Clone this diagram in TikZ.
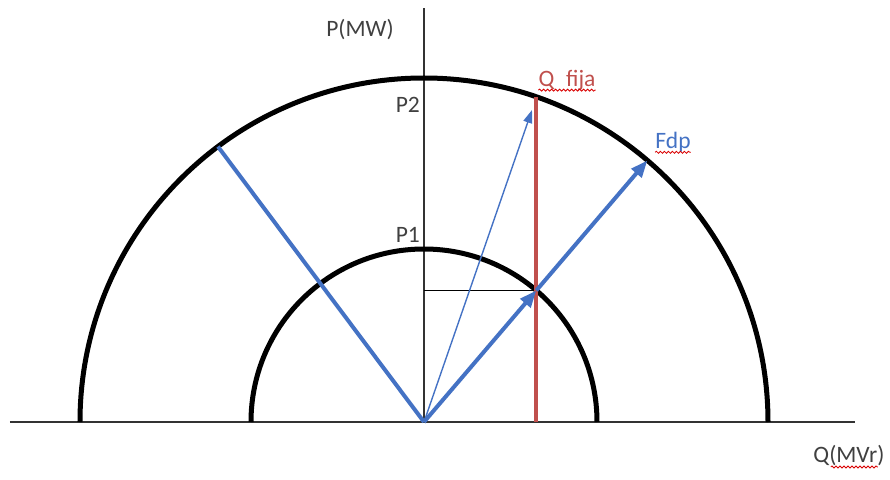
\documentclass[tikz,border=0pt]{standalone}
\usepackage{fontspec}
\setmainfont{Carlito}
\usetikzlibrary{arrows.meta,decorations.pathmorphing}
\definecolor{offblue}{RGB}{68,114,196}
\definecolor{offred}{RGB}{192,80,77}
\definecolor{txtgray}{RGB}{64,64,64}
\begin{document}
\begin{tikzpicture}[x=1pt,y=1pt,
  axis/.style={draw=black!80, line width=1.5pt},
  circ/.style={draw=black, line width=5pt},
  bluethick/.style={draw=offblue, line width=4pt},
  bluethin/.style={draw=offblue, line width=1.4pt},
  redline/.style={draw=offred, line width=4pt},
  lbl/.style={font=\fontsize{23.5}{27}\selectfont, text=txtgray, inner sep=0pt},
  squig/.style={draw=red!85!black, line width=0.8pt, decorate, decoration={snake, amplitude=1pt, segment length=4pt}},
  bigtip/.style={-{Triangle[length=17pt,width=13pt]}},
  smalltip/.style={-{Triangle[length=13pt,width=9pt]}}
]
\useasboundingbox (-424,-57) rectangle (466,422);
\coordinate (O) at (0,0);
\coordinate (xl) at (-414,0);
\coordinate (xr) at (431,0);
\coordinate (yt) at (0,414);
\coordinate (A) at (49.5:173);
\coordinate (B) at (49.5:344);
\coordinate (L) at (126.8:344);
\coordinate (R0) at (112,0);
\coordinate (R1) at (112,325);
\coordinate (T) at (108,312);
% axes
\draw[axis] (xl) -- (xr);
\draw[axis] (O) -- (yt);
% semicircles
\draw[circ] (344,0) arc[start angle=0,end angle=180,radius=344pt];
\draw[circ] (173,0) arc[start angle=0,end angle=180,radius=173pt];
% horizontal projection
\draw[draw=black, line width=1.3pt] (A -| O) -- (A);
% red fixed-Q line
\draw[redline] (R0) -- (R1);
% blue lines
\draw[bluethick] (O) -- (L);
\draw[bluethick,bigtip] (O) -- (A);
\draw[bluethick,bigtip] (A) -- (B);
\draw[bluethin,smalltip] (O) -- (T);
% labels
\node[lbl] (pmw) at (-64,392) {P(MW)};
\node[lbl,anchor=east] (p2) at (-4,317) {P2};
\node[lbl,anchor=east] (p1) at (-4,187) {P1};
\node[lbl,text=offred] (qf) at (143,342) {Q\enspace fija};
\node[lbl,text=offblue] (fdp) at (249,280) {Fdp};
\node[lbl] (qm) at (425,-34) {Q(MVr)};
\draw[squig] ([yshift=-4pt]qf.base west) -- ([yshift=-4pt]qf.base east);
\draw[squig] ([yshift=-4pt]fdp.base west) -- ([yshift=-4pt]fdp.base east);
\draw[squig] ([xshift=-54pt,yshift=-4pt]qm.base east) -- ([xshift=-7pt,yshift=-4pt]qm.base east);
\end{tikzpicture}
\end{document}
